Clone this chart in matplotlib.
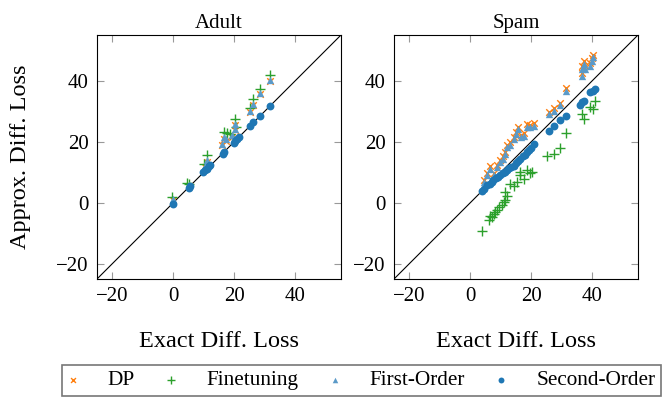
import numpy as np
import matplotlib
matplotlib.use("Agg")
import matplotlib.pyplot as plt

plt.rcParams['font.family'] = ['Liberation Serif', 'DejaVu Serif']

# ---- data ----
# Adult
adult_so_x = [0, 5, 5.5, 9.9, 10.4, 11, 11.6, 12, 16.2, 16.5, 19.8, 20.3, 20.9, 21.4, 25.2, 26.3, 28.3, 31.6]
adult_so_y = [-0.3, 4.8, 5.4, 10.1, 10.6, 11.2, 12.0, 12.4, 16.0, 16.6, 19.6, 20.2, 21.0, 21.6, 25.3, 26.5, 28.4, 31.6]
adult_fo_x = [0, 5, 10.5, 11, 16, 16.5, 17.2, 19.2, 20.3, 20.3, 25.2, 26.3, 28.3, 31.6]
adult_fo_y = [1.3, 5.7, 12.0, 13.9, 19.3, 21.5, 20.8, 22.1, 24.3, 25.9, 30.0, 32.5, 36.0, 40.4]
adult_dp_x = [0, 5, 10.5, 11, 16, 16.5, 17.2, 19.2, 20.3, 20.3, 25.2, 26.3, 28.3, 31.6]
adult_dp_y = [1.0, 5.5, 11.6, 13.4, 18.8, 21.0, 20.3, 21.6, 23.9, 25.4, 29.6, 32.0, 35.6, 40.0]
adult_ft_x = [-0.4, 4.5, 5.2, 10.1, 11, 16.5, 17.5, 18.7, 20.3, 20.6, 25.2, 26.3, 28.3, 31.8]
adult_ft_y = [1.9, 6.6, 6.0, 12.6, 15.5, 23.2, 23.0, 22.6, 27.5, 24.8, 31.0, 34.1, 37.4, 41.8]

# Spam
spam_so_x = [3.8, 4.6, 5.5, 6.4, 7.0, 7.6, 8.4, 9.2, 9.8, 10.6, 11.4, 12.0, 12.8, 13.5, 14.2, 15.0, 15.7,
             16.4, 17.2, 17.8, 18.6, 19.2, 19.8, 20.8, 25.7, 27.5, 29.5, 31.5, 36.1, 36.6, 37.2, 39.4, 40.2, 41.0]
spam_so_y = [3.8, 4.6, 5.7, 6.3, 6.8, 7.3, 8.0, 8.5, 9.0, 9.8, 10.2, 10.6, 11.3, 11.8, 12.2, 13.0, 13.6,
             14.4, 15.2, 15.8, 16.6, 17.4, 18.0, 19.3, 23.6, 25.3, 27.0, 28.4, 32.1, 33.0, 33.5, 36.2, 36.5, 37.4]
spam_fo_x = [4.4, 5.5, 6.6, 7.7, 8.7, 9.8, 10.9, 11.5, 12.0, 13.0, 14.2, 15.0, 15.8, 16.5, 17.5, 18.5, 19.7,
             20.8, 25.7, 27.5, 29.5, 31.5, 36.6, 36.6, 37.2, 37.6, 39.3, 39.9, 40.4]
spam_fo_y = [6.8, 9.0, 11.2, 9.0, 11.7, 13.3, 14.4, 16.0, 18.2, 19.0, 20.9, 22.5, 24.2, 21.5, 22.0, 25.0, 24.7,
             25.3, 29.1, 30.2, 31.9, 36.8, 41.7, 43.9, 45.5, 44.0, 45.0, 46.6, 47.7]
spam_dp_x = [4.4, 5.5, 6.6, 7.7, 8.7, 9.8, 10.9, 11.5, 12.0, 13.0, 14.2, 15.0, 15.8, 16.5, 17.5, 18.5, 19.7,
             20.8, 25.7, 27.5, 29.5, 31.5, 36.6, 36.6, 37.2, 37.6, 39.3, 39.9, 40.4]
spam_dp_y = [7.6, 9.8, 12.0, 9.8, 12.5, 14.1, 15.2, 16.8, 19.0, 19.8, 21.7, 23.3, 25.0, 22.3, 22.8, 25.8, 25.5,
             26.1, 29.9, 31.0, 32.7, 37.6, 42.5, 44.7, 46.6, 44.8, 45.8, 47.4, 48.5]
spam_ft_x = [3.8, 6.0, 6.6, 7.2, 7.7, 8.2, 8.7, 9.5, 10.4, 11.0, 11.5, 11.5, 12.2, 13.1, 14.3, 15.3, 16.4,
             16.4, 17.5, 18.6, 19.5, 20.2, 25.1, 27.3, 29.5, 31.5, 36.6, 37.2, 39.3, 40.4, 41.0]
spam_ft_y = [-9.1, -5.8, -4.2, -4.8, -3.6, -3.0, -2.5, -1.5, -0.9, 0.2, 0.8, 3.5, 2.2, 6.2, 5.6, 6.8, 9.0,
             10.1, 7.9, 10.6, 9.8, 10.1, 15.2, 16.1, 18.0, 23.0, 29.1, 27.5, 31.4, 30.7, 33.5]

datasets = [
    ("Adult", adult_dp_x, adult_dp_y, adult_ft_x, adult_ft_y, adult_fo_x, adult_fo_y, adult_so_x, adult_so_y),
    ("Spam", spam_dp_x, spam_dp_y, spam_ft_x, spam_ft_y, spam_fo_x, spam_fo_y, spam_so_x, spam_so_y),
]

fig = plt.figure(figsize=(6.63, 4.03), dpi=100)
W, H = 663., 403.
lefts = [97, 394]

handles = None
for i, (title, dpx, dpy, ftx, fty, fox, foy, sox, soy) in enumerate(datasets):
    ax = fig.add_axes([lefts[i] / W, (H - 279) / H, 244 / W, 244 / H])
    ax.plot([-25, 55], [-25, 55], color='k', lw=0.8, zorder=1)
    h1 = ax.scatter(dpx, dpy, marker='x', s=22, color='#ff7f0e', lw=1.0, zorder=2, label='DP')
    h2 = ax.scatter(ftx, fty, marker='+', s=55, color='#2ca02c', lw=1.0, zorder=3, label='Finetuning')
    h3 = ax.scatter(fox, foy, marker='^', s=28, color='#5b9ac8', lw=0, zorder=4, label='First-Order')
    h4 = ax.scatter(sox, soy, marker='o', s=32, color='#1f77b4', lw=0, zorder=5, label='Second-Order')
    handles = [h1, h2, h3, h4]
    ax.set_xlim(-25, 55)
    ax.set_ylim(-25, 55)
    ax.set_xticks([-20, 0, 20, 40])
    ax.set_yticks([-20, 0, 20, 40])
    ax.tick_params(direction='in', top=True, right=True, color='#999999', length=5,
                   labelsize=15, pad=6)
    ax.set_title(title, fontsize=15, pad=5)
    ax.set_xlabel("Exact Diff. Loss", fontsize=17.5, labelpad=18)
    if i == 0:
        ax.set_ylabel("Approx. Diff. Loss", fontsize=17.5, labelpad=18)

leg = fig.legend(handles=handles, loc='upper left', bbox_to_anchor=(62 / W, 1 - 365 / H), ncol=4,
                 fontsize=15.3, frameon=True, fancybox=False, edgecolor='#555555',
                 handlelength=0.5, handletextpad=1.4, columnspacing=1.46,
                 markerscale=0.75, borderpad=0.25, borderaxespad=0)
leg.get_frame().set_linewidth(1.2)

fig.savefig("out.png", dpi=100)
